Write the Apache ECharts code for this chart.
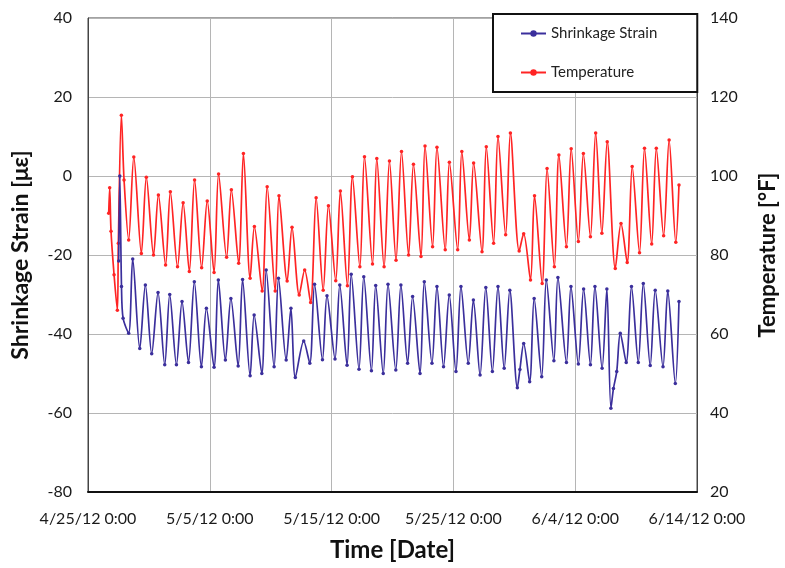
<!DOCTYPE html>
<html>
<head>
<meta charset="utf-8">
<script src="https://cdn.jsdelivr.net/npm/echarts@6/dist/echarts.min.js"></script>
<style>html,body{margin:0;padding:0;background:#fff}#c{width:785px;height:568px}</style>
</head>
<body>
<div id="c"></div>
<script>
// x values are days since 4/25/12 0:00
const xTickLabels = ['4/25/12 0:00', '5/5/12 0:00', '5/15/12 0:00', '5/25/12 0:00', '6/4/12 0:00', '6/14/12 0:00'];
const leftTicks = [-80, -60, -40, -20, 0, 20, 40];
const rightTicks = [20, 40, 60, 80, 100, 120, 140];

// Shrinkage strain [µε]: [day, value]
const strainData = [
 [2.52,-21.5],[2.61,0],[2.75,-28],[2.88,-36],[3.34,-39.8],[3.67,-21],[4.25,-43.7],[4.71,-27.6],
 [5.23,-45],[5.75,-29.5],[6.30,-47.8],[6.71,-30],[7.26,-47.8],[7.72,-31.8],[8.25,-47.2],[8.73,-26.8],
 [9.31,-48.3],[9.72,-33.5],[10.35,-48.4],[10.70,-26.3],[11.28,-46.6],[11.73,-31],[12.33,-48.1],[12.69,-26.2],
 [13.31,-50.6],[13.64,-35.2],[14.27,-50],[14.63,-23.8],[15.28,-48.3],[15.64,-25.9],[16.27,-46.6],[16.66,-33.5],
 [17.02,-51],[17.71,-41.8],[18.21,-47.4],[18.60,-27.4],[19.25,-46.5],[19.62,-30.3],[20.28,-46.3],[20.67,-27.6],
 [21.27,-47.9],[21.61,-24.9],[22.25,-48.9],[22.64,-25.5],[23.27,-49.3],[23.62,-27.7],[24.24,-50],[24.63,-27.4],
 [25.27,-49.1],[25.69,-27.6],[26.24,-47.4],[26.65,-30.5],[27.26,-50],[27.61,-26.8],[28.24,-47.4],[28.65,-28],
 [29.19,-48.3],[29.66,-30.1],[30.21,-49.5],[30.62,-28],[31.22,-47.4],[31.64,-31.4],[32.19,-50.4],[32.66,-28.2],
 [33.20,-49.5],[33.66,-28],[34.17,-48.7],[34.63,-28.9],[35.25,-53.6],[35.46,-49],[35.77,-42.4],[36.26,-52.1],
 [36.63,-31],[37.25,-50.8],[37.63,-26.3],[38.25,-46.8],[38.58,-25.7],[39.28,-47.2],[39.65,-28],[40.26,-47.6],
 [40.69,-28.6],[41.25,-47.8],[41.62,-28],[42.21,-48.7],[42.60,-28.6],[42.93,-58.8],[43.14,-53.8],[43.41,-49.5],
 [43.70,-39.8],[44.19,-47.2],[44.62,-28],[45.18,-47.2],[45.59,-27.2],[46.16,-48],[46.57,-28.9],[47.21,-48.3],
 [47.60,-29.1],[48.22,-52.5],[48.52,-31.8]
];

// Temperature [°F]: [day, value]
const tempData = [
 [1.70,90.6],[1.78,97],[1.89,86],[2.14,75],[2.41,66],[2.49,83],[2.74,115.4],[2.96,99],
 [3.34,83.8],[3.76,104.8],[4.38,80.4],[4.79,99.7],[5.38,80],[5.78,95.2],[6.37,77.5],[6.76,96],
 [7.35,77],[7.81,93.2],[8.32,75.8],[8.75,99],[9.33,76.8],[9.79,93.7],[10.35,75.6],[10.72,100.5],
 [11.38,79.4],[11.77,96.5],[12.37,77.9],[12.76,105.7],[13.31,74.1],[13.66,87.2],[14.30,70.9],[14.71,97.3],
 [15.37,70.9],[15.68,95],[16.35,73.4],[16.75,87],[17.34,69.9],[17.79,76.2],[18.28,68],[18.73,94.5],
 [19.31,71.1],[19.74,92.5],[20.34,73.5],[20.72,96.2],[21.30,72.2],[21.71,99.8],[22.32,77],[22.70,104.9],
 [23.36,77.7],[23.71,104.4],[24.31,77],[24.75,103.8],[25.29,78.7],[25.74,106.2],[26.32,80],[26.72,103],
 [27.34,79.6],[27.67,107.6],[28.29,82.1],[28.65,107.3],[29.33,81.3],[29.67,103.5],[30.35,81.3],[30.69,106.2],
 [31.31,83.8],[31.66,103.3],[32.35,80.8],[32.70,107.4],[33.30,83],[33.66,110],[34.29,85.1],[34.68,110.9],
 [35.40,81],[35.77,85.4],[36.33,73.7],[36.66,95],[37.29,72.8],[37.69,101.9],[38.29,77],[38.66,105.3],
 [39.28,82.1],[39.67,106.9],[40.26,83.4],[40.67,105.7],[41.25,84.6],[41.68,110.9],[42.19,85.5],[42.63,108.7],
 [43.29,76.6],[43.76,88],[44.27,78.1],[44.68,102.4],[45.28,80.6],[45.69,107],[46.28,82.8],[46.66,107],
 [47.26,84.9],[47.71,109.1],[48.26,83.2],[48.52,97.7]
];

const FONT = 'Lato, "Open Sans", sans-serif';
const chart = echarts.init(document.getElementById('c'), null, {renderer: 'canvas'});
chart.setOption({
  animation: false,
  backgroundColor: '#fff',
  textStyle: {fontFamily: FONT},
  grid: {left: 88, right: 88, top: 18, bottom: 76, show: true, borderColor: '#444', borderWidth: 1,
         containLabel: false, outerBoundsMode: 'none'},
  legend: {
    orient: 'vertical', left: 493, top: 14,
    backgroundColor: '#fff', borderColor: '#111', borderWidth: 2, borderRadius: 0,
    padding: [12, 40, 12, 27], itemGap: 24, itemWidth: 25, itemHeight: 8,
    textStyle: {fontFamily: FONT, fontSize: 15, color: '#222'},
    data: ['Shrinkage Strain', 'Temperature']
  },
  xAxis: {
    type: 'value', min: 0, max: 50, interval: 10,
    name: 'Time [Date]', nameLocation: 'middle', nameGap: 46,
    nameTextStyle: {fontFamily: FONT, fontSize: 24, fontWeight: 'bold', color: '#111'},
    axisLine: {show: true, onZero: false, lineStyle: {color: '#111', width: 2}},
    axisTick: {show: false},
    splitLine: {show: true, lineStyle: {color: '#b5b5b5', width: 1}},
    axisLabel: {
      margin: 19, fontSize: 16, color: '#1a1a1a', fontFamily: FONT,
      formatter: v => xTickLabels[Math.round(v / 10)] || ''
    }
  },
  yAxis: [
    {
      type: 'value', min: leftTicks[0], max: leftTicks[leftTicks.length - 1], interval: 20,
      name: 'Shrinkage Strain [\u03bc\u03b5]', nameLocation: 'middle', nameGap: 56, nameRotate: 90,
      nameTextStyle: {fontFamily: FONT, fontSize: 23, fontWeight: 'bold', color: '#111'},
      axisLine: {show: true, lineStyle: {color: '#444', width: 1}},
      axisTick: {show: false},
      splitLine: {show: true, lineStyle: {color: '#b5b5b5', width: 1}},
      axisLabel: {margin: 16, fontSize: 16, color: '#1a1a1a', fontFamily: FONT}
    },
    {
      type: 'value', min: rightTicks[0], max: rightTicks[rightTicks.length - 1], interval: 20,
      name: 'Temperature [\u00b0F]', nameLocation: 'middle', nameGap: 60, nameRotate: 90,
      nameTextStyle: {fontFamily: FONT, fontSize: 22, fontWeight: 'bold', color: '#111'},
      axisLine: {show: true, lineStyle: {color: '#444', width: 1}},
      axisTick: {show: false},
      splitLine: {show: false},
      axisLabel: {margin: 13, fontSize: 16, color: '#1a1a1a', fontFamily: FONT}
    }
  ],
  series: [
    {
      name: 'Shrinkage Strain', type: 'line', yAxisIndex: 0, data: strainData,
      smooth: 0.3, symbol: 'circle', symbolSize: 3.5, showSymbol: true,
      lineStyle: {color: '#3b2f9c', width: 1.7}, itemStyle: {color: '#3b2f9c'}, z: 3
    },
    {
      name: 'Temperature', type: 'line', yAxisIndex: 1, data: tempData,
      smooth: 0.3, symbol: 'circle', symbolSize: 3.5, showSymbol: true,
      lineStyle: {color: '#ff2424', width: 1.7}, itemStyle: {color: '#ff2424'}, z: 2
    }
  ]
});
</script>
</body>
</html>
